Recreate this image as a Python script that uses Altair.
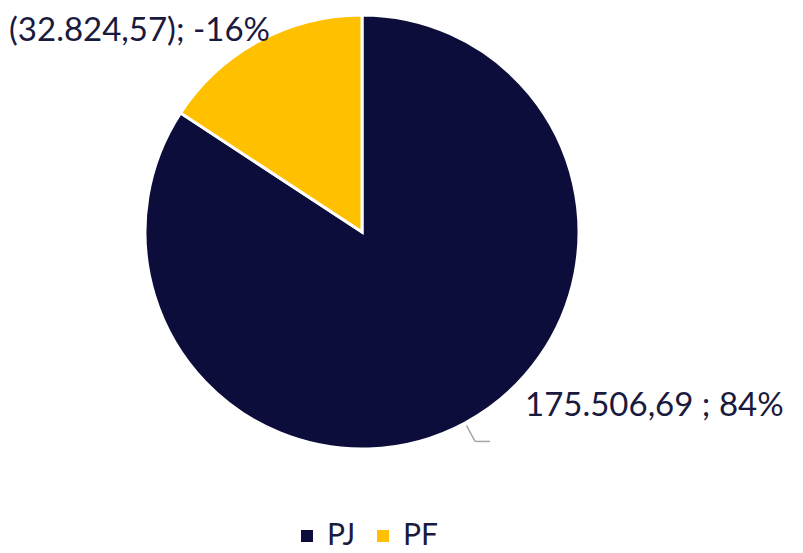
import altair as alt
import pandas as pd

categories = ["PJ", "PF"]
values = [175506.69, 32824.57]
labels = ["175.506,69 ; 84%", "(32.824,57); -16%"]
orders = [0, 1]
colors = ["#0D0D3B", "#FFC000"]

FONT = "Lato"
TXT = "#1a1a3e"
CX, CY = 354, 224

df = pd.DataFrame({"cat": categories, "value": values, "label": labels, "ord": orders})
base = alt.Chart(df)

arc = base.mark_arc(outerRadius=217, stroke="white", strokeWidth=3).encode(
    theta=alt.Theta("value:Q", stack=True),
    order=alt.Order("ord:Q"),
    color=alt.Color(
        "cat:N",
        scale=alt.Scale(domain=categories, range=colors),
        sort=categories,
        legend=alt.Legend(
            title=None,
            orient="none",
            direction="horizontal",
            legendX=284,
            legendY=513,
            symbolType="square",
            symbolSize=144,
            symbolStrokeWidth=0,
            labelFont=FONT,
            labelFontSize=30,
            labelColor=TXT,
            labelOffset=5,
            columnPadding=12,
            padding=0,
        ),
    ),
    x=alt.value(CX),
    y=alt.value(CY),
)

text = base.mark_text(
    radius=240,
    fontSize=33,
    font=FONT,
    color=TXT,
    baseline="middle",
    align=alt.expr("datum.cat === 'PJ' ? 'left' : 'right'"),
    dx=alt.expr("datum.cat === 'PJ' ? 49 : 22"),
    dy=alt.expr("datum.cat === 'PJ' ? -37 : 10"),
).encode(
    theta=alt.Theta("value:Q", stack=True),
    order=alt.Order("ord:Q"),
    text="label:N",
    x=alt.value(CX),
    y=alt.value(CY),
)

lead = (
    base.transform_joinaggregate(total="sum(value)")
    .transform_window(cum="sum(value)", sort=[alt.SortField("ord")])
    .transform_calculate(
        mid="(datum.cum - datum.value/2)/datum.total*2*PI",
    )
    .transform_calculate(
        ax=f"{CX} + 220*sin(datum.mid)",
        ay=f"{CY} - 220*cos(datum.mid)",
        bx=f"{CX} + 238*sin(datum.mid)",
        by=f"{CY} - 238*cos(datum.mid)",
    )
    .transform_calculate(cx2="datum.bx + 15")
    .transform_filter("datum.cat === 'PJ'")
)

lead1 = lead.mark_rule(color="#A6A6A6", strokeWidth=1.5).encode(
    x=alt.X("ax:Q", scale=None, axis=None),
    y=alt.Y("ay:Q", scale=None, axis=None),
    x2="bx:Q",
    y2="by:Q",
)
lead2 = lead.mark_rule(color="#A6A6A6", strokeWidth=1.5).encode(
    x=alt.X("bx:Q", scale=None, axis=None),
    y=alt.Y("by:Q", scale=None, axis=None),
    x2="cx2:Q",
    y2="by:Q",
)

chart = (
    alt.layer(arc, lead1, lead2, text)
    .properties(width=787, height=537, padding=0, background="white")
    .configure_view(stroke=None)
)

chart.save("out.html", embed_options={"renderer": "svg", "actions": False})
